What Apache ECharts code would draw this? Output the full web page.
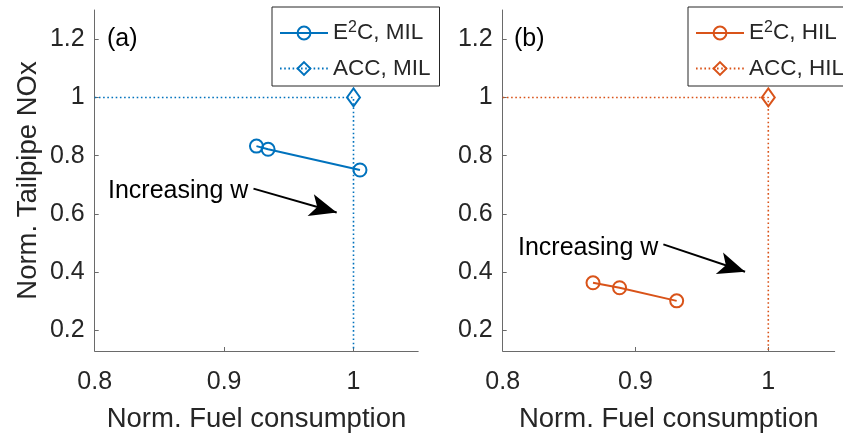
<!DOCTYPE html>
<html>
<head>
<meta charset="utf-8">
<script src="https://cdn.jsdelivr.net/npm/echarts@6/dist/echarts.min.js"></script>
<style>
html,body{margin:0;padding:0;background:#fff;}
#chart{width:843px;height:438px;}
</style>
</head>
<body>
<div id="chart"></div>
<script>
// ---- data ----
var xTicks = [0.8, 0.9, 1];
var yTicks = [0.2, 0.4, 0.6, 0.8, 1, 1.2];
var e2cMIL = [[0.925, 0.833], [0.934, 0.822], [1.005, 0.751]];
var accMIL = [[0.8, 1], [1, 1], [1, 0.13]];
var e2cHIL = [[0.868, 0.364], [0.888, 0.347], [0.931, 0.302]];
var accHIL = [[0.8, 1], [1, 1], [1, 0.13]];
var arrowMIL = [[0.9227, 0.687], [0.987, 0.605]];
var arrowHIL = [[0.921, 0.496], [0.9825, 0.402]];
var panelLabels = ['(a)', '(b)'];
var annotText = 'Increasing w';

var BLUE = '#0072BD', ORANGE = '#D95319', AX = '#262626';
var FONT = 'Liberation Sans, Arial, Helvetica, sans-serif';

function xAxis(i) {
  return {
    gridIndex: i, type: 'value', min: 0.8, max: 1.05,
    name: 'Norm. Fuel consumption', nameLocation: 'middle', nameGap: 54,
    nameTextStyle: {fontSize: 27.5, color: AX, fontFamily: FONT},
    axisLine: {lineStyle: {color: '#6a6a6a', width: 1}},
    axisTick: {inside: true, length: 4, customValues: xTicks, lineStyle: {color: '#6a6a6a'}},
    axisLabel: {customValues: xTicks, fontSize: 25, color: AX, fontFamily: FONT, margin: 19},
    splitLine: {show: false}
  };
}
function yAxis(i, withName) {
  return {
    gridIndex: i, type: 'value', min: 0.13, max: 1.3,
    name: withName ? 'Norm. Tailpipe NOx' : '', nameLocation: 'middle', nameGap: 52,
    nameTextStyle: {fontSize: 27.5, color: AX, fontFamily: FONT},
    axisLine: {show: true, lineStyle: {color: '#6a6a6a', width: 1}},
    axisTick: {show: true, inside: true, length: 4, customValues: yTicks, lineStyle: {color: '#6a6a6a'}},
    axisLabel: {customValues: yTicks, fontSize: 25, color: AX, fontFamily: FONT, margin: 10},
    splitLine: {show: false}
  };
}
function e2cSeries(name, data, color, idx, arrow) {
  return {
    name: name, type: 'line', xAxisIndex: idx, yAxisIndex: idx,
    data: data, symbol: 'circle', symbolSize: 13,
    itemStyle: {color: 'rgba(255,255,255,0)', borderColor: color, borderWidth: 2},
    lineStyle: {color: color, width: 2},
    emphasis: {disabled: true}, animation: false, z: 3,
    markLine: {
      silent: true, animation: false,
      symbol: ['none', 'arrow'], symbolSize: [17, 27],
      label: {show: false},
      lineStyle: {color: '#000', width: 2, type: 'solid'},
      emphasis: {disabled: true},
      data: [[{coord: arrow[0]}, {coord: arrow[1]}]]
    }
  };
}
function accSeries(name, data, color, idx) {
  return {
    name: name, type: 'line', xAxisIndex: idx, yAxisIndex: idx,
    data: data.map(function (p, k) {
      return k === 1 ? {value: p} : {value: p, symbol: 'none'};
    }),
    symbol: 'diamond', symbolSize: [13, 18],
    itemStyle: {color: 'rgba(255,255,255,0)', borderColor: color, borderWidth: 2},
    lineStyle: {color: color, width: 1.6, type: [1.6, 2.6]},
    emphasis: {disabled: true}, animation: false, z: 2
  };
}
function legend(names, left) {
  return {
    orient: 'vertical', left: left, top: 7,
    padding: [13, 9, 6, 7],
    backgroundColor: '#fff', borderColor: AX, borderWidth: 1,
    itemWidth: 48, itemHeight: 16, itemGap: 7, itemTextGap: 5,
    data: names, selectedMode: false,
    formatter: function (n) {
      return n.indexOf('E2C') === 0 ? '{n|E}{sup|2}{n|C' + n.slice(3) + '}' : '{n|' + n + '}';
    },
    textStyle: {
      fontFamily: FONT, color: AX, fontSize: 22.5,
      rich: {
        n: {fontSize: 22.5, lineHeight: 26, fontFamily: FONT, color: AX},
        sup: {fontSize: 16, lineHeight: 26, fontFamily: FONT, color: AX, verticalAlign: 'top', padding: [0, 0, 14, 0]}
      }
    }
  };
}

var chart = echarts.init(document.getElementById('chart'), null, {renderer: 'canvas'});
chart.setOption({
  animation: false,
  backgroundColor: '#fff',
  grid: [
    {left: 94.7, top: 10, width: 323.5, height: 341.7},
    {left: 502.7, top: 10, width: 332, height: 341.7}
  ],
  xAxis: [xAxis(0), xAxis(1)],
  yAxis: [yAxis(0, true), yAxis(1, false)],
  legend: [legend(['E2C, MIL', 'ACC, MIL'], 272), legend(['E2C, HIL', 'ACC, HIL'], 688)],
  series: [
    accSeries('ACC, MIL', accMIL, BLUE, 0),
    e2cSeries('E2C, MIL', e2cMIL, BLUE, 0, arrowMIL),
    accSeries('ACC, HIL', accHIL, ORANGE, 1),
    e2cSeries('E2C, HIL', e2cHIL, ORANGE, 1, arrowHIL)
  ],
  graphic: [
    {type: 'text', left: 107, top: 27, style: {text: panelLabels[0], font: '25px ' + FONT, fill: '#000'}},
    {type: 'text', left: 514, top: 27, style: {text: panelLabels[1], font: '25px ' + FONT, fill: '#000'}},
    {type: 'text', left: 108, top: 179, style: {text: annotText, font: '25px ' + FONT, fill: '#000'}},
    {type: 'text', left: 518, top: 236, style: {text: annotText, font: '25px ' + FONT, fill: '#000'}}
  ]
});
</script>
</body>
</html>
